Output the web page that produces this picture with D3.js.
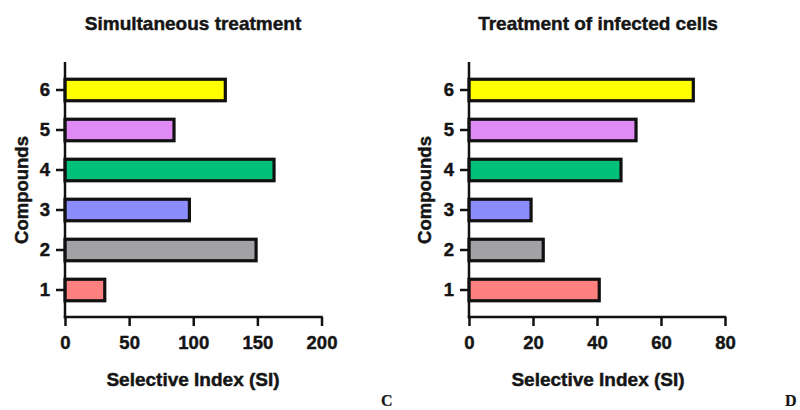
<!DOCTYPE html>
<html><head><meta charset="utf-8">
<script src="https://cdn.jsdelivr.net/npm/d3@7"></script>
<style>
html,body{margin:0;padding:0;background:#fff;}
svg{display:block;}
text{font-family:"Liberation Sans",Arial,sans-serif;font-weight:bold;fill:#151515;stroke:#151515;stroke-width:0.45px;}
</style></head>
<body><svg id="c" width="800" height="410"></svg>
<script>
const compounds = ["1","2","3","4","5","6"];
const colors = ["#ff8080","#a2a1a6","#8b8dfc","#00c07a","#df8af5","#ffff00"];
const simultaneousSI = [31, 149, 97, 163, 85, 125];
const infectedSI = [40.7, 23.2, 19.4, 47.5, 52.2, 70.1];
const ticksLeft = [0, 50, 100, 150, 200];
const ticksRight = [0, 20, 40, 60, 80];
const titles = ["Simultaneous treatment", "Treatment of infected cells"];
const panelLetters = ["C", "D"];

const svg = d3.select("#c");

function panel(cfg){
  const g = svg.append("g");
  const x = d3.scaleLinear().domain([0, cfg.max]).range([cfg.x0, cfg.x1]);
  const y = d3.scaleBand().domain(compounds).range([310, 70]).paddingInner(0.46).paddingOuter(0.23);
  const yTop = 62, yBot = 317;

  g.selectAll("rect.bar").data(compounds).enter().append("rect")
    .attr("class","bar")
    .attr("x", x(0))
    .attr("y", d => y(d) + y.bandwidth()/2 - 10.75)
    .attr("width", (d,i) => x(cfg.values[i]) - x(0))
    .attr("height", 21.5)
    .attr("fill", (d,i) => colors[i])
    .attr("stroke", "#111")
    .attr("stroke-width", 3.2);

  const xa = g.append("g").attr("transform", `translate(0,${yBot})`)
    .call(d3.axisBottom(x).tickValues(cfg.ticks).tickSize(9).tickPadding(5).tickSizeOuter(0));
  xa.select(".domain").remove();
  xa.selectAll("line").attr("stroke","#111").attr("stroke-width",2.5);
  xa.selectAll("text").attr("font-size",18.5).attr("dy","0.95em").attr("fill","#151515");
  g.append("line").attr("x1", x(0)-1.25).attr("x2", x(cfg.max)+1.25).attr("y1", yBot).attr("y2", yBot)
    .attr("stroke","#111").attr("stroke-width",2.5);

  const ya = g.append("g").attr("transform", `translate(${x(0)},0)`)
    .call(d3.axisLeft(y).tickSize(9).tickPadding(6).tickSizeOuter(0));
  ya.select(".domain").remove();
  ya.selectAll("line").attr("stroke","#111").attr("stroke-width",2.5);
  ya.selectAll("text").attr("font-size",18.5).attr("fill","#151515");
  g.append("line").attr("x1", x(0)).attr("x2", x(0)).attr("y1", yTop).attr("y2", yBot+1.25)
    .attr("stroke","#111").attr("stroke-width",2.5);

  g.append("text").attr("x", cfg.cx).attr("y", 29.5).attr("text-anchor","middle").attr("font-size",19).text(cfg.title);
  g.append("text").attr("x", cfg.cx).attr("y", 386).attr("text-anchor","middle").attr("font-size",19).text("Selective Index (SI)");
  g.append("text").attr("transform", `translate(${cfg.ylx},190) rotate(-90)`).attr("text-anchor","middle").attr("font-size",18.5).text("Compounds");
  g.append("text").attr("x", cfg.letterX).attr("y", 405.5).attr("font-size",16)
    .style("font-family",'"Liberation Serif","Times New Roman",serif').style("stroke-width","0.2px").text(cfg.letter);
}

panel({x0:65, x1:321.5, max:200, values:simultaneousSI, ticks:ticksLeft, title:titles[0], cx:193, ylx:28, letter:panelLetters[0], letterX:381});
panel({x0:469, x1:725, max:80, values:infectedSI, ticks:ticksRight, title:titles[1], cx:598, ylx:431, letter:panelLetters[1], letterX:785});
</script></body></html>
